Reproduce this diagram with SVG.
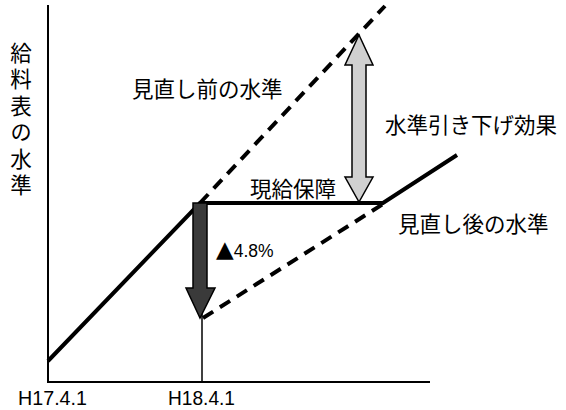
<svg xmlns="http://www.w3.org/2000/svg" width="566" height="410" viewBox="0 0 566 410">
<style>
.t{font-family:"Noto Sans CJK JP","Liberation Sans",sans-serif;font-size:21.5px;fill:#000}
.l{font-family:"Liberation Sans","Noto Sans CJK JP",sans-serif;fill:#000}
.solid{fill:none;stroke:#000;stroke-width:4;stroke-linecap:butt}
.dash{fill:none;stroke:#000;stroke-width:4;stroke-dasharray:12 8}
.axis{fill:none;stroke:#000;stroke-width:2}
</style>
<rect width="566" height="410" fill="#fff"/>
<g id="axes">
<line class="axis" x1="48" y1="5" x2="48" y2="382"/>
<line class="axis" x1="47" y1="382" x2="430" y2="382"/>
<line x1="202" y1="203" x2="202" y2="382" stroke="#000" stroke-width="1.5"/>
</g>
<g id="connectors">
<polyline class="solid" points="48,361 200,203 383,203 457,155"/>
<line class="dash" x1="200" y1="203" x2="385" y2="6"/>
<line class="dash" x1="203" y1="318" x2="383" y2="204"/>
</g>
<g id="drop-arrow">
<polygon points="193,203 207,203 207,288 215,288 200,318 186,288 193,288" fill="#3a3a3a" stroke="#000" stroke-width="1.5"/>
</g>
<g id="effect-arrow">
<polygon points="359,35 373,65 366,65 366,177 373,177 359,202 345,177 352,177 352,65 345,65" fill="#d0d0d0" stroke="#000" stroke-width="1.5"/>
</g>
<g id="ylabel">
<text class="t" x="21" y="42" style="writing-mode:vertical-rl;letter-spacing:5px">給料表の水準</text>
</g>
<g id="label-before"><text class="t" x="132" y="97">見直し前の水準</text></g>
<g id="label-effect"><text class="t" x="385" y="133">水準引き下げ効果</text></g>
<g id="label-guarantee"><text class="t" x="250" y="197">現給保障</text></g>
<g id="label-after"><text class="t" x="398" y="232">見直し後の水準</text></g>
<g id="label-pct"><text class="l" x="216" y="257" font-size="17.5"><tspan font-family="DejaVu Sans" font-size="23">▲</tspan>4.8%</text></g>
<g id="xlabels">
<text class="l" x="18" y="405" font-size="20" textLength="69" lengthAdjust="spacingAndGlyphs">H17.4.1</text>
<text class="l" x="168" y="405" font-size="20" textLength="67" lengthAdjust="spacingAndGlyphs">H18.4.1</text>
</g>
</svg>
